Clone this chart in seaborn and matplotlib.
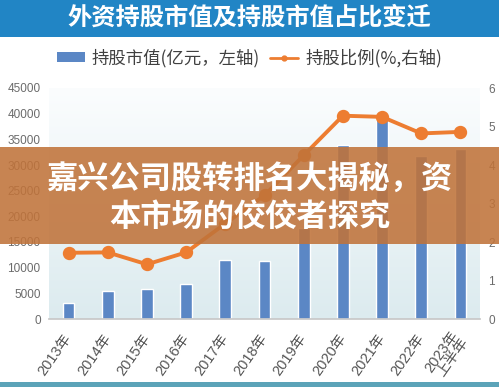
import numpy as np
import pandas as pd
import matplotlib
matplotlib.use("Agg")
import matplotlib.pyplot as plt
from matplotlib.patches import Rectangle, Patch
from matplotlib.lines import Line2D
import seaborn as sns

# -----------------------------
# Data
# -----------------------------
years = ["2013年", "2014年", "2015年", "2016年", "2017年", "2018年",
         "2019年", "2020年", "2021年", "2022年", "2023年\n上半年"]
market_value = [3200, 5450, 5800, 6800, 11500, 11300,
                17800, 33900, 39600, 31700, 33100]   # 亿元, left axis
hold_ratio = [1.72, 1.73, 1.42, 1.73, 2.48, 3.21,
              4.25, 5.28, 5.25, 4.82, 4.86]          # %, right axis

title = "外资持股市值及持股市值占比变迁"
bar_label = "持股市值(亿元，左轴)"
line_label = "持股比例(%,右轴)"
banner_lines = ["嘉兴公司股转排名大揭秘，资", "本市场的佼佼者探究"]

df = pd.DataFrame({"year": years, "value": market_value, "ratio": hold_ratio})

# -----------------------------
# Style
# -----------------------------
sns.set_theme(style="white")
plt.rcParams["font.family"] = ["Noto Sans CJK SC", "DejaVu Sans"]

bar_color = "#5b87c5"
line_color = "#ed7d31"
tick_color = "#6b6b6b"
num_font = ["Liberation Sans", "Noto Sans CJK SC"]

fig = plt.figure(figsize=(4.99, 3.92), dpi=100)
W, H = 499, 392

# title banner
fig.add_artist(Rectangle((0, 1 - 37 / H), 1, 37 / H, transform=fig.transFigure,
                         facecolor="#2185c5", edgecolor="none", zorder=1))
fig.text(0.5, 1 - 18 / H, title, color="white", fontsize=17.5, fontweight="black",
         ha="center", va="center", zorder=2)

# bottom teal line
fig.add_artist(Rectangle((0, 1 - 387 / H), 1, 5 / H, transform=fig.transFigure,
                         facecolor="#5ba3b8", edgecolor="none", zorder=1))

# -----------------------------
# Axes
# -----------------------------
ax = fig.add_axes([49 / W, 1 - 319 / H, (480 - 49) / W, (319 - 88) / H])

# soft gradient background
grad = np.linspace(0, 1, 256).reshape(-1, 1)
cmap = matplotlib.colors.LinearSegmentedColormap.from_list("bg", ["#dcebef", "#fbfdfe"])
ax.imshow(grad, extent=[0, 1, 0, 1], transform=ax.transAxes, aspect="auto",
          cmap=cmap, origin="lower", zorder=0)

sns.barplot(data=df, x="year", y="value", color=bar_color, width=0.3,
            saturation=1, ax=ax, zorder=2)
ax.set_ylim(0, 45000)
ax.set_yticks(np.arange(0, 45001, 5000))
ax.set_xlim(-0.5, len(years) - 0.5)

ax2 = ax.twinx()
sns.pointplot(data=df, x="year", y="ratio", color=line_color, ax=ax2,
              markersize=7.5, linewidth=2.8)
ax2.set_ylim(0, 6)
ax2.set_yticks(range(0, 7))
ax2.set_xlim(-0.5, len(years) - 0.5)

for a in (ax, ax2):
    a.set_xlabel("")
    a.set_ylabel("")
    for s in a.spines.values():
        s.set_visible(False)
    a.tick_params(length=0, colors=tick_color, labelsize=8.5)
    for t in a.get_yticklabels():
        t.set_family(num_font)
ax.spines["bottom"].set_visible(True)
ax.spines["bottom"].set_color("#c8c8c8")
ax.tick_params(axis="y", pad=6)
ax2.tick_params(axis="y", pad=6)
ax.set_xticks(range(len(years)))
ax.set_xticklabels(years, rotation=55, ha="right", va="center",
                   rotation_mode="anchor", fontsize=10.5, color="#555555",
                   family=num_font, linespacing=0.85)
ax.tick_params(axis="x", pad=12)

# legend
handles = [Patch(facecolor=bar_color, edgecolor="none"),
           Line2D([0], [0], color=line_color, lw=2, marker="o", markersize=3.5)]
fig.legend(handles, [bar_label, line_label], loc="center",
           bbox_to_anchor=(0.5, 1 - 58 / H), ncol=2, frameon=False,
           fontsize=12.5, handlelength=1.6, handleheight=0.5,
           columnspacing=0.6, handletextpad=0.4, labelcolor="#404040")

# overlay banner
fig.add_artist(Rectangle((0, 1 - 244 / H), 1, (244 - 147) / H,
                         transform=fig.transFigure, facecolor="#c0733a",
                         edgecolor="none", alpha=0.88, zorder=10))
fig.text(0.5, 1 - 179 / H, banner_lines[0], color="white", fontsize=22.5,
         fontweight="black", ha="center", va="center", zorder=11)
fig.text(0.5, 1 - 217 / H, banner_lines[1], color="white", fontsize=22.5,
         fontweight="black", ha="center", va="center", zorder=11)

fig.savefig("out.png", dpi=100)
